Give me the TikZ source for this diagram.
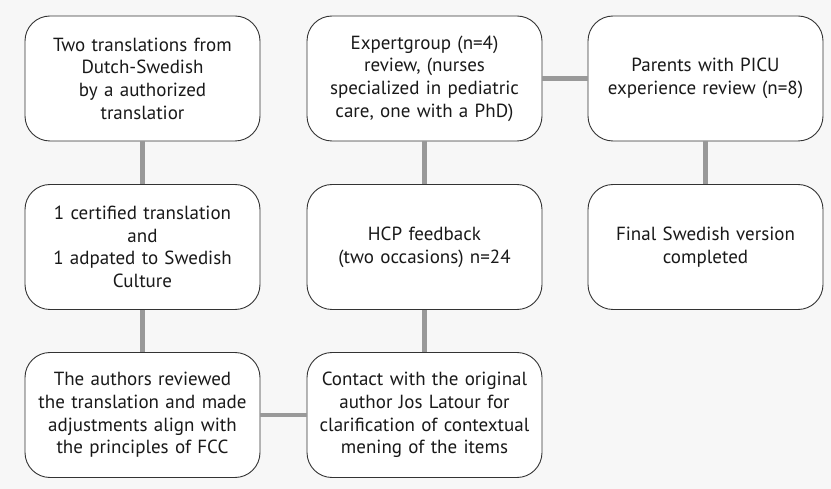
\documentclass[tikz,border=0pt]{standalone}
\usepackage{fontspec}
\setmainfont{PT Sans}

\begin{document}
\begin{tikzpicture}[x=1pt, y=-1pt, font=\fontsize{19}{22.7}\selectfont,
	box/.style={draw=black!80, fill=white, rounded corners=25pt, line width=0.9pt, minimum width=235pt, minimum height=125pt, text width=225pt, inner sep=0pt, align=center, text=black!90},
	link/.style={draw=black!40, line width=4.5pt}]
	\useasboundingbox[fill=black!3] (0,0) rectangle (831,489);
	% left column
	\node[box] (twotrans) at (142.5,78.5) {Two translations from\\Dutch-Swedish\\by a authorized\\translatior};
	\node[box] (certified) at (142.5,247) {1 certified translation\\and\\1 adpated to Swedish\\Culture};
	\node[box] (authors) at (142.5,415) {The authors reviewed\\the translation and made\\adjustments align with\\the principles of FCC};
	% middle column
	\node[box] (contact) at (424.5,415) {Contact with the original\\author Jos Latour for\\clarification of contextual\\mening of the items};
	\node[box] (hcp) at (424.5,247) {HCP feedback\\(two occasions) n=24};
	\node[box] (expert) at (424.5,78.5) {Expertgroup (n=4)\\review, (nurses\\specialized in pediatric\\care, one with a PhD)};
	% right column
	\node[box] (parents) at (705.5,78.5) {Parents with PICU\\experience review (n=8)};
	\node[box] (final) at (705.5,247) {Final Swedish version\\completed};
	% links
	\draw[link] (twotrans) -- (certified);
	\draw[link] (certified) -- (authors);
	\draw[link] (authors) -- (contact);
	\draw[link] (contact) -- (hcp);
	\draw[link] (hcp) -- (expert);
	\draw[link] (expert) -- (parents);
	\draw[link] (parents) -- (final);
\end{tikzpicture}
\end{document}
